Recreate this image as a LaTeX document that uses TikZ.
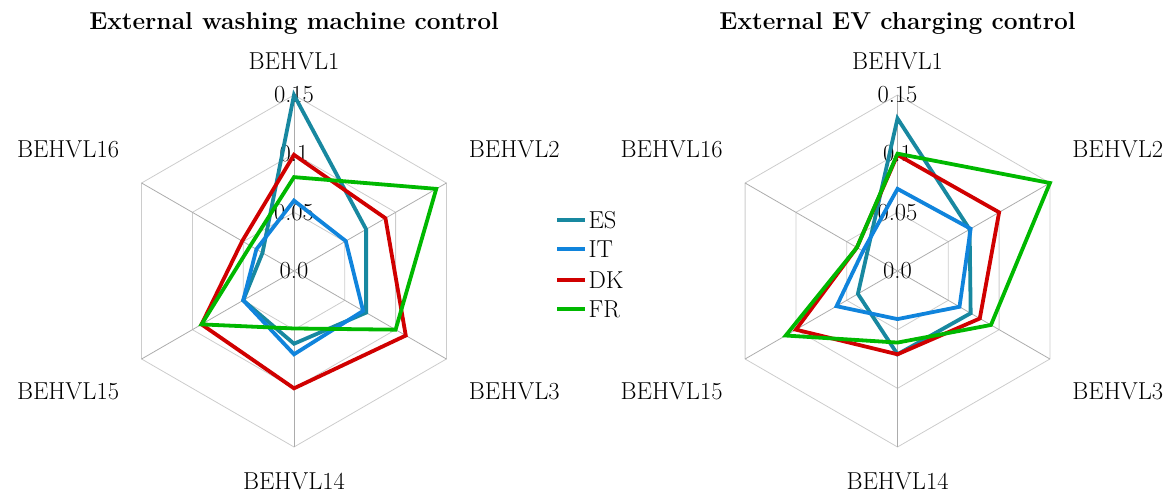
\documentclass[tikz,border=0pt]{standalone}
\usepackage{fontspec}
\definecolor{colES}{RGB}{24,136,160}
\definecolor{colIT}{RGB}{16,132,220}
\definecolor{colDK}{RGB}{208,0,0}
\definecolor{colFR}{RGB}{0,184,0}
\tikzset{
  gridline/.style={draw=gray!40,line width=0.8pt},
  spoke/.style={draw=gray!65,line width=0.8pt},
  series/.style={line width=3.8pt,line join=miter},
  legline/.style={line width=4pt}
}
\begin{document}
\begin{tikzpicture}[x=1pt,y=1pt,font=\fontsize{24.5}{29}\selectfont]
\useasboundingbox (0,0) rectangle (1172,492);

% left chart
\begin{scope}[shift={(294pt,221pt)},x=1173.3pt,y=1173.3pt]
  \foreach \r in {0.05,0.1,0.15}
    \draw[gridline] (90:\r) -- (30:\r) -- (-30:\r) -- (-90:\r) -- (210:\r) -- (150:\r) -- cycle;
  \foreach \a in {90,30,-30,-90,210,150}
    \draw[spoke] (0,0) -- (\a:0.15);
  \node (wm title) at (0,0.15) [anchor=base,yshift=66pt,font=\fontsize{24.5}{29}\selectfont\bfseries] {External washing machine control};
  \node (wm v1) at (90:0.15) [yshift=34pt] {BEHVL1};
  \node (wm v2) at (30:0.15) [anchor=west,xshift=19pt,yshift=34pt] {BEHVL2};
  \node (wm v3) at (-30:0.15) [anchor=west,xshift=19pt,yshift=-32pt] {BEHVL3};
  \node (wm v14) at (-90:0.15) [yshift=-34pt] {BEHVL14};
  \node (wm v15) at (210:0.15) [anchor=east,xshift=-19pt,yshift=-32pt] {BEHVL15};
  \node (wm v16) at (150:0.15) [anchor=east,xshift=-19pt,yshift=34pt] {BEHVL16};
  \foreach \r in {0.0,0.05,0.1,0.15}
    \node at (0,\r) {\r};
  \foreach \col/\a/\b/\c/\d/\e/\f in {
      colES/0.15/0.071/0.071/0.062/0.050/0.031,
      colIT/0.060/0.051/0.068/0.071/0.050/0.037,
      colDK/0.099/0.090/0.110/0.100/0.091/0.051,
      colFR/0.080/0.140/0.100/0.049/0.091/0.043}
    \draw[series,\col] (90:\a) -- (30:\b) -- (-30:\c) -- (-90:\d) -- (210:\e) -- (150:\f) -- cycle;
\end{scope}

% right chart
\begin{scope}[shift={(897.5pt,221pt)},x=1173.3pt,y=1173.3pt]
  \foreach \r in {0.05,0.1,0.15}
    \draw[gridline] (90:\r) -- (30:\r) -- (-30:\r) -- (-90:\r) -- (210:\r) -- (150:\r) -- cycle;
  \foreach \a in {90,30,-30,-90,210,150}
    \draw[spoke] (0,0) -- (\a:0.15);
  \node (ev title) at (0,0.15) [anchor=base,yshift=66pt,font=\fontsize{24.5}{29}\selectfont\bfseries] {External EV charging control};
  \node (ev v1) at (90:0.15) [yshift=34pt] {BEHVL1};
  \node (ev v2) at (30:0.15) [anchor=west,xshift=19pt,yshift=34pt] {BEHVL2};
  \node (ev v3) at (-30:0.15) [anchor=west,xshift=19pt,yshift=-32pt] {BEHVL3};
  \node (ev v14) at (-90:0.15) [yshift=-34pt] {BEHVL14};
  \node (ev v15) at (210:0.15) [anchor=east,xshift=-19pt,yshift=-32pt] {BEHVL15};
  \node (ev v16) at (150:0.15) [anchor=east,xshift=-19pt,yshift=34pt] {BEHVL16};
  \foreach \r in {0.0,0.05,0.1,0.15}
    \node at (0,\r) {\r};
  \foreach \col/\a/\b/\c/\d/\e/\f in {
      colES/0.130/0.071/0.072/0.071/0.039/0.030,
      colIT/0.070/0.072/0.061/0.041/0.060/0.034,
      colDK/0.099/0.100/0.081/0.071/0.100/0.040,
      colFR/0.100/0.150/0.092/0.061/0.110/0.040}
    \draw[series,\col] (90:\a) -- (30:\b) -- (-30:\c) -- (-90:\d) -- (210:\e) -- (150:\f) -- cycle;
\end{scope}

% legend
\foreach \name/\col/\y in {ES/colES/272,IT/colIT/243,DK/colDK/212,FR/colFR/183}{
  \coordinate (leg \name) at (557,\y);
  \draw[legline,\col] (leg \name) -- ++(28,0) node (leg text \name) [anchor=west,inner sep=1.5pt,text=black] {\name};
}
\end{tikzpicture}
\end{document}
